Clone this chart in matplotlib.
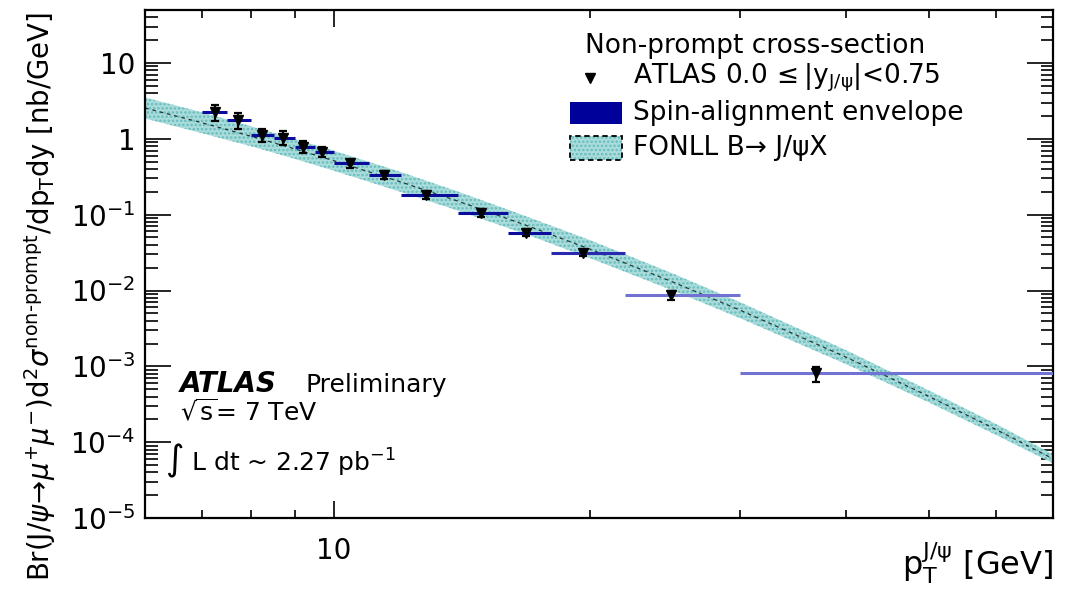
import numpy as np
import matplotlib
matplotlib.use("Agg")
import matplotlib.pyplot as plt
from matplotlib.patches import Rectangle
from matplotlib.lines import Line2D
from matplotlib.ticker import FixedLocator, FuncFormatter, NullFormatter

# Non-prompt J/psi differential cross-section, ATLAS 0.0 <= |y| < 0.75
bin_lo = [7.0, 7.5, 8.0, 8.5, 9.0, 9.5, 10.0, 11.0, 12.0, 14.0, 16.0, 18.0, 22.0, 30.0]
bin_hi = [7.5, 8.0, 8.5, 9.0, 9.5, 10.0, 11.0, 12.0, 14.0, 16.0, 18.0, 22.0, 30.0, 70.0]
pt_mean = [7.26, 7.72, 8.24, 8.71, 9.2, 9.68, 10.44, 11.44, 12.85, 14.9, 16.8, 19.6, 24.9, 36.9]
xsec = [2.27, 1.76, 1.12, 1.04, 0.785, 0.675, 0.473, 0.336, 0.183, 0.106, 0.058,
        0.0316, 0.00877, 0.00081]
xsec_err = [0.55, 0.40, 0.22, 0.22, 0.14, 0.10, 0.06, 0.04, 0.02, 0.012, 0.006,
            0.003, 0.0012, 0.00018]

# FONLL B -> J/psi X prediction with its uncertainty band
fonll_pt = [6, 7, 8, 9, 10, 12, 14, 17, 20, 25, 30, 40, 50, 60, 70]
fonll_central = [2.551, 1.629, 1.079, 0.736, 0.515, 0.269, 0.1506, 0.0695, 0.0351,
                 0.0130, 0.00552, 0.00132, 4.03e-4, 1.47e-4, 6.03e-5]
fonll_upper = [3.505, 2.238, 1.461, 0.997, 0.697, 0.364, 0.201, 0.0913, 0.0461,
               0.01682, 0.00703, 0.00163, 4.83e-4, 1.736e-4, 6.91e-5]
fonll_lower = [1.857, 1.186, 0.797, 0.544, 0.380, 0.199, 0.1129, 0.0529, 0.0267,
               0.01005, 0.00433, 0.001068, 3.36e-4, 1.245e-4, 5.26e-5]

plt.rcParams["font.family"] = ["DejaVu Sans"]
plt.rcParams["mathtext.fontset"] = "dejavusans"
plt.rcParams["hatch.linewidth"] = 1.2

W, H = 1070, 591
fig = plt.figure(figsize=(W / 100, H / 100), dpi=100)
ax = fig.add_axes([145 / W, 1 - 518 / H, (1053 - 145) / W, (518 - 10) / H])
ax.set_xscale("log")
ax.set_yscale("log")
ax.set_xlim(6, 70)
ax.set_ylim(1e-5, 50)

band_face = "#aadcdc"
band_hatch = "#66bcbc"

# FONLL band and central value
ax.fill_between(fonll_pt, fonll_lower, fonll_upper, facecolor=band_face,
                edgecolor=band_hatch, hatch="....", linewidth=0, zorder=2)
ax.plot(fonll_pt, fonll_central, color="black", lw=0.9, dashes=(3, 3),
        alpha=0.75, zorder=3)

# spin-alignment envelope per bin
env_colors = ["#0b0b9c"] * 11 + ["#2a2ab0", "#7272d2", "#7272d2"]
for lo, hi, y, c in zip(bin_lo, bin_hi, xsec, env_colors):
    ax.hlines(y, lo, hi, colors=c, lw=2.2, zorder=4)

# data points
ax.errorbar(pt_mean, xsec, yerr=xsec_err, fmt="v", color="black", ms=7.5,
            elinewidth=1.6, capsize=3, capthick=1.6, zorder=5)

# axis styling
for s in ax.spines.values():
    s.set_linewidth(1.6)
ax.tick_params(which="both", direction="in", top=True, right=True, width=1.2)
ax.tick_params(axis="y", which="major", length=19, labelsize=20, pad=7)
ax.tick_params(axis="y", which="minor", length=9)
ax.tick_params(axis="x", which="major", length=12, labelsize=20, pad=14)
ax.tick_params(axis="x", which="minor", length=6)

ax.xaxis.set_major_locator(FixedLocator([10]))
ax.xaxis.set_minor_locator(FixedLocator([6, 7, 8, 9, 20, 30, 40, 50, 60, 70]))
ax.xaxis.set_major_formatter(FuncFormatter(lambda v, p: "10"))
ax.xaxis.set_minor_formatter(NullFormatter())

ydec = [1e-5, 1e-4, 1e-3, 1e-2, 1e-1, 1, 10]
ax.yaxis.set_major_locator(FixedLocator(ydec))
yminor = [m * d for d in ydec for m in range(2, 10)]
ax.yaxis.set_minor_locator(FixedLocator(yminor))


def ylab(v, pos):
    e = int(round(np.log10(v)))
    if e == 0:
        return "1"
    if e == 1:
        return "10"
    return r"$10^{%d}$" % e


ax.yaxis.set_major_formatter(FuncFormatter(ylab))
ax.yaxis.set_minor_formatter(NullFormatter())

# axis titles
fig.text(40 / W, 1 - 296 / H,
         r"Br(J/$\psi\!\rightarrow\!\mu^{+}\mu^{-}$)d$^{2}\sigma^{\mathrm{non\text{-}prompt}}$/dp$_{\mathrm{T}}$dy [nb/GeV]",
         rotation=90, ha="center", va="center", fontsize=19.8)
fig.text(1053 / W, 1 - 575 / H, r"p$_{\mathrm{T}}^{\mathrm{J/\psi}}$ [GeV]",
         ha="right", va="baseline", fontsize=23)


# experiment labels
def axpt(px, py):
    return (px - 145) / 908, (518 - py) / 508


ax.text(*axpt(180, 392), "ATLAS", transform=ax.transAxes, fontsize=20,
        fontweight="bold", fontstyle="italic", va="baseline")
ax.text(*axpt(305, 392), "Preliminary", transform=ax.transAxes, fontsize=18,
        va="baseline")
ax.text(*axpt(180, 420), r"$\sqrt{\mathrm{s}}$= 7 TeV", transform=ax.transAxes,
        fontsize=18, va="baseline")
ax.text(*axpt(165, 470), r"$\int$ L dt ~ 2.27 pb$^{-1}$", transform=ax.transAxes,
        fontsize=18, va="baseline")

# legend
lfs = 19
ax.text(*axpt(585, 46), "Non-prompt cross-section", transform=ax.transAxes,
        fontsize=lfs, va="center")
mx, my = axpt(590, 78)
ax.add_line(Line2D([mx], [my], marker="v", color="black", ms=7,
                   transform=ax.transAxes, linestyle="none"))
ax.text(*axpt(633, 78), r"ATLAS 0.0$\,\leq$|y$_{\mathrm{J/\psi}}$|<0.75",
        transform=ax.transAxes, fontsize=lfs, va="center")
x0, y0 = axpt(570, 124)
x1, y1 = axpt(622, 102)
ax.add_patch(Rectangle((x0, y0), x1 - x0, y1 - y0, transform=ax.transAxes,
                       facecolor="#00009a", edgecolor="none"))
ax.text(*axpt(633, 113), "Spin-alignment envelope", transform=ax.transAxes,
        fontsize=lfs, va="center")
x0, y0 = axpt(570, 160)
x1, y1 = axpt(622, 136)
ax.add_patch(Rectangle((x0, y0), x1 - x0, y1 - y0, transform=ax.transAxes,
                       facecolor=band_face, edgecolor=band_hatch, hatch="....",
                       linewidth=0))
ax.add_patch(Rectangle((x0, y0), x1 - x0, y1 - y0, transform=ax.transAxes,
                       facecolor="none", edgecolor="black", linewidth=1.3,
                       linestyle=(0, (3, 2))))
ax.text(*axpt(633, 148), "FONLL B\u2192 J/\u03c8X", transform=ax.transAxes,
        fontsize=lfs, va="center")

fig.savefig("out.png", dpi=100)
